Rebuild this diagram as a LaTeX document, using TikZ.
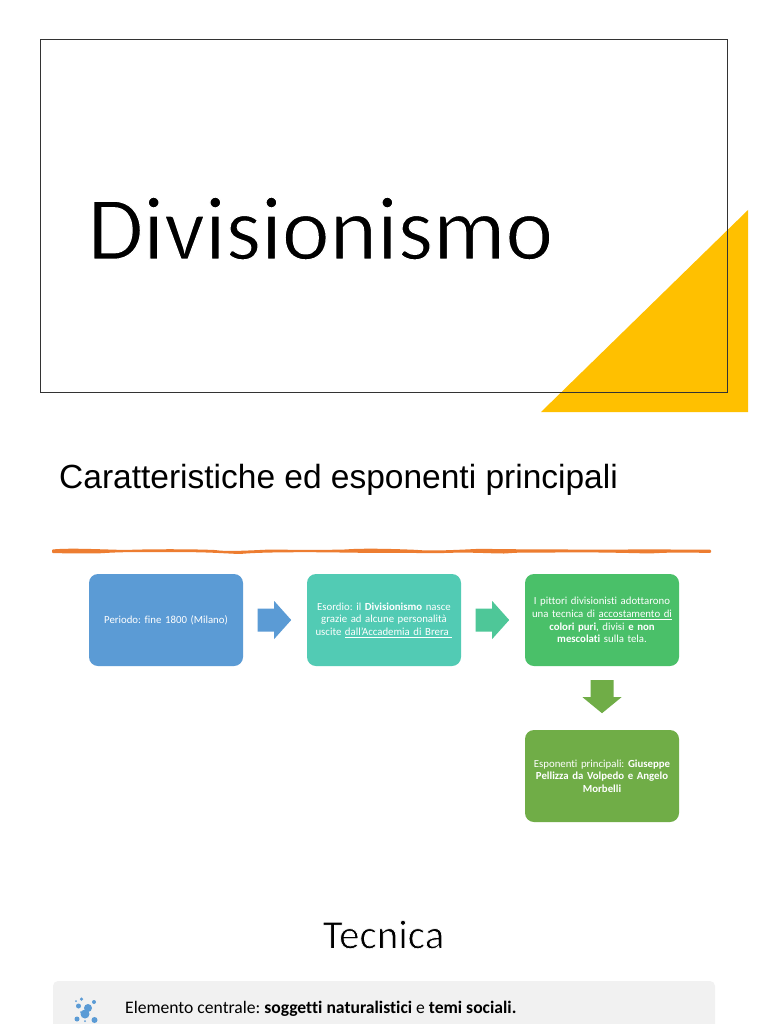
\documentclass[tikz,border=0pt]{standalone}
\usepackage{fontspec}
\setmainfont[Ligatures=NoCommon]{Carlito}
\newfontfamily\arialfont{Liberation Sans}
\definecolor{cblue}{HTML}{5B9BD5}
\definecolor{cteal}{HTML}{52CBB4}
\definecolor{cgreen}{HTML}{4AC069}
\definecolor{colive}{HTML}{70AD47}
\definecolor{ctealarrow}{HTML}{4EC798}
\definecolor{cyellow}{HTML}{FFC000}
\definecolor{corange}{HTML}{ED7D31}
\definecolor{cpanel}{HTML}{F1F1F1}
\tikzset{
 flowbox/.style={rounded corners=9pt,minimum width=154pt,minimum height=92pt,inner sep=0pt,text width=150pt,align=center,text=white,font=\fontsize{10.8}{12.6}\selectfont},
 dot/.style={circle,fill=cblue,inner sep=0pt}
}
\newcommand{\harrow}[2]{\fill[#2,shift={(#1.east)}] (14.5,-11.5) -- (31,-11.5) -- (31,-19) -- (48,0) -- (31,19) -- (31,11.5) -- (14.5,11.5) -- cycle;}
\newcommand{\varrow}[2]{\fill[#2,shift={(#1.south)}] (-11.5,14) -- (-11.5,31) -- (-19.5,31) -- (0,47) -- (19.5,31) -- (11.5,31) -- (11.5,14) -- cycle;}
\newcommand{\thintext}[2]{\special{pdf:code q 2 Tr 1 1 1 RG #1 w}#2\special{pdf:code Q}}
\begin{document}
\frenchspacing
\begin{tikzpicture}[x=1pt,y=-1pt]
\useasboundingbox (0,0) rectangle (768,1024);
\fill[white] (0,0) rectangle (768,1024);
\fill[cyellow] (748,210) -- (748,412) -- (541,412) -- cycle;
\node[draw=black!80,line width=0.9pt,minimum width=687pt,minimum height=353pt,inner sep=0pt] (titlebox) at (383.5,215.5) {};
\node[anchor=west,inner sep=0pt,font=\fontsize{90.5}{95}\selectfont] (title) at (87.5,228.5) {\thintext{1.2}{Divisionismo}};
\node[anchor=west,inner sep=0pt,font=\arialfont\fontsize{33.5}{38}\selectfont] (sub) at (59,480) {Caratteristiche ed esponenti principali};
\fill[corange,rounded corners=1pt] (52,549.5) .. controls (70,548) and (90,549) .. (125,550) .. controls (150,549) and (190,549) .. (215,550) .. controls (225,551.5) and (240,551) .. (270,549.5) .. controls (300,550) and (325,550) .. (345,549.5) .. controls (365,548) and (395,549) .. (415,549.8) .. controls (430,551) and (445,550.5) .. (480,548.8) .. controls (520,549.5) and (570,549.5) .. (625,549.6) .. controls (640,549) and (690,549.8) .. (711,549.7) -- (711,553) .. controls (690,552.5) and (670,552.2) .. (650,553.5) .. controls (630,553) and (590,552) .. (555,552.5) .. controls (530,552.6) and (520,552.2) .. (505,553.5) .. controls (490,553.5) and (470,552) .. (445,553) .. controls (400,553) and (370,553) .. (340,552.5) .. controls (310,552) and (260,552) .. (240,554) .. controls (225,553.5) and (210,552) .. (170,552) .. controls (130,552) and (120,552) .. (100,553.3) .. controls (80,553.5) and (70,553.5) .. (52,553) -- cycle;
\node[flowbox,fill=cblue] (a) at (166,620) {Periodo: fine 1800 (Milano)};
\node[flowbox,fill=cteal] (b) at (384,620) {Esordio: il \textbf{Divisionismo} nasce\\grazie ad alcune personalità\\uscite \underline{dall’Accademia di Brera\ }};
\node[flowbox,fill=cgreen] (c) at (602,620) {I pittori divisionisti adottarono\\una tecnica di \underline{accostamento di}\\\textbf{colori puri}, divisi \textbf{e} \textbf{non}\\\textbf{mescolati} sulla tela.};
\node[flowbox,fill=colive] (d) at (602,776) {Esponenti principali: \textbf{Giuseppe}\\\textbf{Pellizza da Volpedo e Angelo}\\\textbf{Morbelli}};
\harrow{a}{cblue}
\harrow{b}{ctealarrow}
\varrow{c}{colive}
\node[inner sep=0pt,font=\fontsize{41}{46}\selectfont] (tecnica) at (383.5,934.5) {\thintext{0.7}{Tecnica}};
\fill[cpanel,rounded corners=5pt] (53,981) rectangle (715,1040);
\node[anchor=west,inner sep=0pt,font=\fontsize{17.6}{21}\selectfont] (el) at (125,1009) {Elemento centrale: \textbf{soggetti naturalistici} e \textbf{temi sociali.}};
\node[dot,minimum size=5pt] (i1) at (78.5,1006) {};
\node[dot,minimum size=3.5pt] (i2) at (81.5,999) {};
\node[dot,minimum size=4pt] (i3) at (94,1002) {};
\node[dot,minimum size=5pt] (i4) at (77,1019) {};
\node[dot,minimum size=6pt] (i5) at (94.5,1020) {};
\node[dot,minimum size=8pt] (i6) at (88,1008) {};
\node[dot,minimum size=9pt] (i7) at (85,1014) {};
\node[dot,minimum size=2pt] (i8) at (76,1001) {};
\node[dot,minimum size=2pt] (i9) at (85,1021) {};
\node[dot,minimum size=2pt] (i10) at (81,1012) {};
\end{tikzpicture}
\end{document}
